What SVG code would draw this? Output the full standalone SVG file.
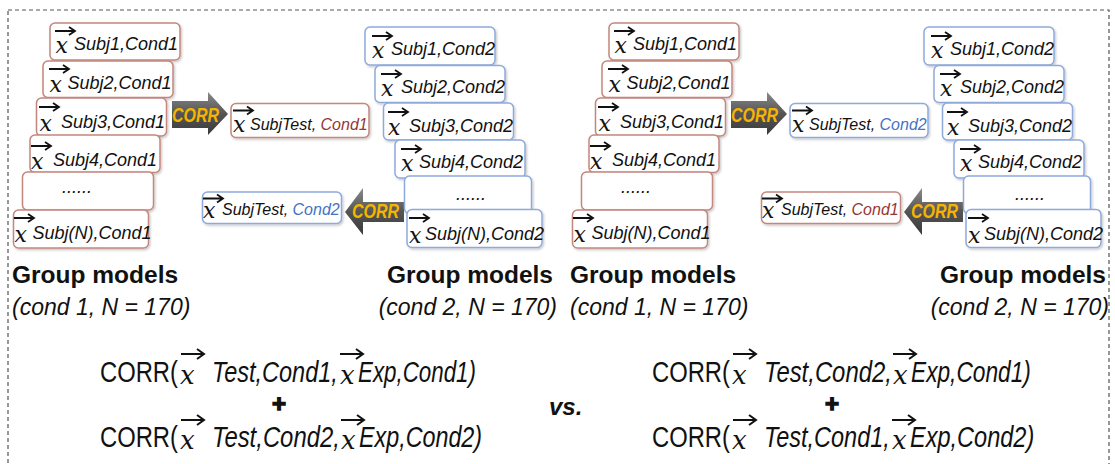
<svg xmlns="http://www.w3.org/2000/svg" width="1115" height="464" viewBox="0 0 1115 464">
<style>
.bx{fill:#fff;stroke-width:1.5;filter:url(#sh)}
.r{stroke:#c3877d}
.b{stroke:#8eaadb}
.lb{font-family:"Liberation Sans",Arial,sans-serif;font-style:italic;font-size:18px;fill:#111}
.tl{font-family:"Liberation Sans",Arial,sans-serif;font-style:italic;font-size:16px;fill:#111}
.xv{font-family:"DejaVu Serif","Liberation Serif",serif;font-style:italic;font-size:22px;fill:#111}
.c1{fill:#953735}
.c2{fill:#4472c4}
.corr{font-family:"Liberation Sans",Arial,sans-serif;font-weight:bold;font-style:italic;font-size:20px;fill:#f5b400}
.ar{fill:url(#g)}
.f{font-family:"Liberation Sans",Arial,sans-serif;font-size:30px;fill:#111}
.fi{font-style:italic}
.fx{font-family:"DejaVu Serif","Liberation Serif",serif;font-style:italic;font-size:26px;fill:#111}
.pl{font-family:"Liberation Sans",Arial,sans-serif;font-weight:bold;font-size:24px;fill:#111;stroke:#111;stroke-width:1.4}
.gm{font-family:"Liberation Sans",Arial,sans-serif;font-weight:bold;font-size:24.5px;fill:#111}
.gc{font-family:"Liberation Sans",Arial,sans-serif;font-style:italic;font-size:23px;fill:#111}
.vs{font-family:"Liberation Sans",Arial,sans-serif;font-weight:bold;font-style:italic;font-size:24px;fill:#111}
</style>
<defs>
<filter id="sh" x="-10%" y="-10%" width="130%" height="140%"><feDropShadow dx="1.2" dy="1.5" stdDeviation="1" flood-color="#000" flood-opacity="0.22"/></filter>
<linearGradient id="g" x1="0" y1="0" x2="0" y2="1"><stop offset="0" stop-color="#8a8a8a"/><stop offset="0.5" stop-color="#555"/><stop offset="1" stop-color="#3a3a3a"/></linearGradient>
<g id="v"><path d="M0,0H20M14,-4L20,0L14,4" fill="none" stroke="#111" stroke-width="1.8"/></g>
<g id="vL"><path d="M0,0H23M16,-5L23,0L16,5" fill="none" stroke="#111" stroke-width="2"/></g>
</defs>
<rect width="1115" height="464" fill="#fff"/>
<rect x="8" y="10" width="1101" height="480" fill="none" stroke="#555" stroke-width="1.2" stroke-dasharray="4,3"/>

<g id="connectors">
<g id="corr-l1"><polygon class="ar" points="172,101 208,101 208,92 228,114 208,135 208,128 172,128"/><text class="corr" x="172" y="122" textLength="47" lengthAdjust="spacingAndGlyphs">CORR</text></g>
<g id="corr-l2"><polygon class="ar" points="345,212 363,188 363,202 404,202 404,222 363,222 363,235"/><text class="corr" x="352" y="218" textLength="47" lengthAdjust="spacingAndGlyphs">CORR</text></g>
<g id="corr-r1" transform="translate(559,0)"><polygon class="ar" points="172,101 208,101 208,92 228,114 208,135 208,128 172,128"/><text class="corr" x="172" y="122" textLength="47" lengthAdjust="spacingAndGlyphs">CORR</text></g>
<g id="corr-r2" transform="translate(559,0)"><polygon class="ar" points="345,212 363,188 363,202 404,202 404,222 363,222 363,235"/><text class="corr" x="352" y="218" textLength="47" lengthAdjust="spacingAndGlyphs">CORR</text></g>
</g>

<!-- Left half -->
<g id="L-c1-s1"><rect class="bx r" x="50" y="23" width="130" height="37" rx="5"/><use href="#v" x="55" y="31"/><text class="xv" x="55.5" y="53">x</text><text class="lb" x="74" y="50">Subj1,Cond1</text></g>
<g id="L-c1-s2"><rect class="bx r" x="43" y="61" width="130" height="36.5" rx="5"/><use href="#v" x="49" y="69"/><text class="xv" x="49.5" y="92">x</text><text class="lb" x="67.5" y="89">Subj2,Cond1</text></g>
<g id="L-c1-s3"><rect class="bx r" x="36.5" y="98" width="130" height="38" rx="5"/><use href="#v" x="39" y="107"/><text class="xv" x="39.5" y="131">x</text><text class="lb" x="61" y="128">Subj3,Cond1</text></g>
<g id="L-c1-s4"><rect class="bx r" x="30" y="135" width="130" height="37.5" rx="5"/><use href="#v" x="31" y="146"/><text class="xv" x="31" y="169">x</text><text class="lb" x="53" y="166">Subj4,Cond1</text></g>
<g id="L-c1-dots"><rect class="bx r" x="22.5" y="172" width="131" height="38" rx="5"/><text class="lb" x="62" y="193">......</text></g>
<g id="L-c1-sN"><rect class="bx r" x="13.5" y="210" width="135" height="38" rx="5"/><use href="#v" x="14" y="218"/><text class="xv" x="14.5" y="242">x</text><text class="lb" x="32.5" y="239">Subj(N),Cond1</text></g>

<g id="L-test1"><rect class="bx r" x="231" y="103.5" width="138" height="34" rx="5"/><use href="#v" x="233" y="110.5"/><text class="xv" x="233" y="132">x</text><text class="tl" x="250" y="130">SubjTest, <tspan class="c1">Cond1</tspan></text></g>
<g id="L-test2"><rect class="bx b" x="202.5" y="192" width="139" height="31.5" rx="5"/><use href="#v" x="203" y="198.5"/><text class="xv" x="203" y="218">x</text><text class="tl" x="222" y="215">SubjTest, <tspan class="c2">Cond2</tspan></text></g>

<g id="L-c2-s1"><rect class="bx b" x="365" y="27" width="130" height="38" rx="5"/><use href="#v" x="372" y="36"/><text class="xv" x="372" y="58">x</text><text class="lb" x="391" y="55">Subj1,Cond2</text></g>
<g id="L-c2-s2"><rect class="bx b" x="375" y="65.5" width="130" height="37" rx="5"/><use href="#v" x="381" y="74"/><text class="xv" x="381" y="96">x</text><text class="lb" x="401" y="93">Subj2,Cond2</text></g>
<g id="L-c2-s3"><rect class="bx b" x="383.5" y="103" width="130" height="37" rx="5"/><use href="#v" x="388" y="112"/><text class="xv" x="388" y="134.5">x</text><text class="lb" x="409" y="131.5">Subj3,Cond2</text></g>
<g id="L-c2-s4"><rect class="bx b" x="395" y="140" width="130" height="38" rx="5"/><use href="#v" x="401" y="149"/><text class="xv" x="401" y="171">x</text><text class="lb" x="419" y="168">Subj4,Cond2</text></g>
<g id="L-c2-dots"><rect class="bx b" x="404.5" y="176" width="127" height="37.5" rx="5"/><text class="lb" x="456" y="200">......</text></g>
<g id="L-c2-sN"><rect class="bx b" x="407" y="209.5" width="135" height="38" rx="5"/><use href="#v" x="409" y="218"/><text class="xv" x="409" y="243">x</text><text class="lb" x="425" y="240">Subj(N),Cond2</text></g>

<!-- Right half -->
<g id="R-c1-s1" transform="translate(559,0)"><rect class="bx r" x="50" y="23" width="130" height="37" rx="5"/><use href="#v" x="55" y="31"/><text class="xv" x="55.5" y="53">x</text><text class="lb" x="74" y="50">Subj1,Cond1</text></g>
<g id="R-c1-s2" transform="translate(559,0)"><rect class="bx r" x="43" y="61" width="130" height="36.5" rx="5"/><use href="#v" x="49" y="69"/><text class="xv" x="49.5" y="92">x</text><text class="lb" x="67.5" y="89">Subj2,Cond1</text></g>
<g id="R-c1-s3" transform="translate(559,0)"><rect class="bx r" x="36.5" y="98" width="130" height="38" rx="5"/><use href="#v" x="39" y="107"/><text class="xv" x="39.5" y="131">x</text><text class="lb" x="61" y="128">Subj3,Cond1</text></g>
<g id="R-c1-s4" transform="translate(559,0)"><rect class="bx r" x="30" y="135" width="130" height="37.5" rx="5"/><use href="#v" x="31" y="146"/><text class="xv" x="31" y="169">x</text><text class="lb" x="53" y="166">Subj4,Cond1</text></g>
<g id="R-c1-dots" transform="translate(559,0)"><rect class="bx r" x="22.5" y="172" width="131" height="38" rx="5"/><text class="lb" x="62" y="193">......</text></g>
<g id="R-c1-sN" transform="translate(559,0)"><rect class="bx r" x="13.5" y="210" width="135" height="38" rx="5"/><use href="#v" x="14" y="218"/><text class="xv" x="14.5" y="242">x</text><text class="lb" x="32.5" y="239">Subj(N),Cond1</text></g>

<g id="R-test1" transform="translate(559,0)"><rect class="bx b" x="231" y="103.5" width="138" height="34" rx="5"/><use href="#v" x="233" y="110.5"/><text class="xv" x="233" y="132">x</text><text class="tl" x="250" y="130">SubjTest, <tspan class="c2">Cond2</tspan></text></g>
<g id="R-test2" transform="translate(559,0)"><rect class="bx r" x="202.5" y="192" width="139" height="31.5" rx="5"/><use href="#v" x="203" y="198.5"/><text class="xv" x="203" y="218">x</text><text class="tl" x="222" y="215">SubjTest, <tspan class="c1">Cond1</tspan></text></g>

<g id="R-c2-s1" transform="translate(559,0)"><rect class="bx b" x="365" y="27" width="130" height="38" rx="5"/><use href="#v" x="372" y="36"/><text class="xv" x="372" y="58">x</text><text class="lb" x="391" y="55">Subj1,Cond2</text></g>
<g id="R-c2-s2" transform="translate(559,0)"><rect class="bx b" x="375" y="65.5" width="130" height="37" rx="5"/><use href="#v" x="381" y="74"/><text class="xv" x="381" y="96">x</text><text class="lb" x="401" y="93">Subj2,Cond2</text></g>
<g id="R-c2-s3" transform="translate(559,0)"><rect class="bx b" x="383.5" y="103" width="130" height="37" rx="5"/><use href="#v" x="388" y="112"/><text class="xv" x="388" y="134.5">x</text><text class="lb" x="409" y="131.5">Subj3,Cond2</text></g>
<g id="R-c2-s4" transform="translate(559,0)"><rect class="bx b" x="395" y="140" width="130" height="38" rx="5"/><use href="#v" x="401" y="149"/><text class="xv" x="401" y="171">x</text><text class="lb" x="419" y="168">Subj4,Cond2</text></g>
<g id="R-c2-dots" transform="translate(559,0)"><rect class="bx b" x="404.5" y="176" width="127" height="37.5" rx="5"/><text class="lb" x="456" y="200">......</text></g>
<g id="R-c2-sN" transform="translate(559,0)"><rect class="bx b" x="407" y="209.5" width="135" height="38" rx="5"/><use href="#v" x="409" y="218"/><text class="xv" x="409" y="243">x</text><text class="lb" x="425" y="240">Subj(N),Cond2</text></g>

<!-- Group labels -->
<g id="labels">
<text class="gm" x="12" y="283">Group models</text>
<text class="gc" x="12" y="315">(cond 1, N = 170)</text>
<text class="gm" x="553" y="283" text-anchor="end">Group models</text>
<text class="gc" x="557" y="315" text-anchor="end">(cond 2, N = 170)</text>
<text class="gm" x="570" y="283">Group models</text>
<text class="gc" x="570" y="315">(cond 1, N = 170)</text>
<text class="gm" x="1106" y="283" text-anchor="end">Group models</text>
<text class="gc" x="1109" y="315" text-anchor="end">(cond 2, N = 170)</text>
</g>

<!-- Formulas -->
<g id="formula-left">
<text class="f" transform="translate(100,382) scale(0.793,1)">CORR(</text>
<use href="#vL" x="181" y="354"/><text class="fx" x="180" y="384">x</text>
<text class="f fi" transform="translate(212,382) scale(0.783,1)">Test,Cond1,</text>
<use href="#vL" x="340" y="354"/><text class="fx" x="340" y="384">x</text>
<text class="f fi" transform="translate(358,382) scale(0.745,1)">Exp,Cond1)</text>
<text class="pl" x="279" y="411.5" text-anchor="middle">+</text>
<text class="f" transform="translate(100,447) scale(0.793,1)">CORR(</text>
<use href="#vL" x="181" y="420"/><text class="fx" x="180" y="449">x</text>
<text class="f fi" transform="translate(212,447) scale(0.796,1)">Test,Cond2,</text>
<use href="#vL" x="341" y="420"/><text class="fx" x="341" y="449">x</text>
<text class="f fi" transform="translate(359,447) scale(0.777,1)">Exp,Cond2)</text>
</g>
<text id="vs" class="vs" x="549" y="415">vs.</text>
<g id="formula-right">
<text class="f" transform="translate(652,382) scale(0.793,1)">CORR(</text>
<use href="#vL" x="733" y="354"/><text class="fx" x="732" y="384">x</text>
<text class="f fi" transform="translate(764,382) scale(0.796,1)">Test,Cond2,</text>
<use href="#vL" x="893" y="354"/><text class="fx" x="893" y="384">x</text>
<text class="f fi" transform="translate(911,382) scale(0.757,1)">Exp,Cond1)</text>
<text class="pl" x="832" y="411.5" text-anchor="middle">+</text>
<text class="f" transform="translate(652,447) scale(0.793,1)">CORR(</text>
<use href="#vL" x="733" y="420"/><text class="fx" x="732" y="449">x</text>
<text class="f fi" transform="translate(764,447) scale(0.783,1)">Test,Cond1,</text>
<use href="#vL" x="892" y="420"/><text class="fx" x="892" y="449">x</text>
<text class="f fi" transform="translate(910,447) scale(0.785,1)">Exp,Cond2)</text>
</g>
</svg>
